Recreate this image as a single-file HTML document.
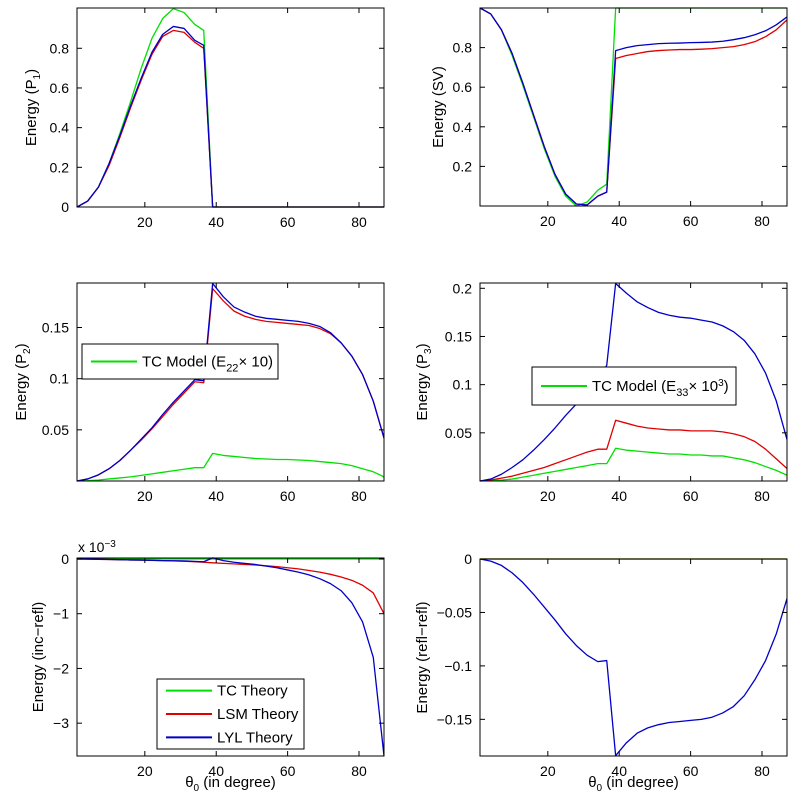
<!DOCTYPE html>
<html><head><meta charset="utf-8"><style>
body{margin:0;background:#fff;}
svg{display:block;font-family:"Liberation Sans",Arial,sans-serif;}
</style></head><body>
<svg id="fig" width="807" height="808"></svg>
<script>
const thetaDeg=[1,4,7,10,13,16,19,22,25,28,31,34,36.5,39,42,45,48,51,54,57,60,63,66,69,72,75,78,81,84,87];
const xTicks=[20,40,60,80];
// P1
const p1Green=[0,0.03,0.1,0.22,0.37,0.53,0.7,0.85,0.95,1.0,0.98,0.92,0.89,0,0,0,0,0,0,0,0,0,0,0,0,0,0,0,0,0];
const p1Red=[0,0.03,0.1,0.21,0.35,0.5,0.64,0.77,0.86,0.89,0.88,0.83,0.80,0,0,0,0,0,0,0,0,0,0,0,0,0,0,0,0,0];
const p1Blue=[0,0.03,0.1,0.22,0.36,0.51,0.65,0.78,0.87,0.91,0.9,0.84,0.815,0,0,0,0,0,0,0,0,0,0,0,0,0,0,0,0,0];
const p1Ticks=[0,0.2,0.4,0.6,0.8];
// SV
const svGreen=[1,0.97,0.89,0.76,0.61,0.45,0.29,0.15,0.05,0.0,0.02,0.08,0.11,1,1,1,1,1,1,1,1,1,1,1,1,1,1,1,1,1];
const svRed=[1,0.97,0.89,0.77,0.62,0.46,0.3,0.16,0.06,0.01,0.005,0.05,0.07,0.745,0.76,0.77,0.78,0.785,0.788,0.79,0.79,0.792,0.795,0.8,0.805,0.815,0.83,0.855,0.89,0.94];
const svBlue=[1,0.97,0.89,0.77,0.62,0.46,0.3,0.16,0.06,0.01,0.005,0.05,0.07,0.785,0.8,0.81,0.815,0.82,0.822,0.823,0.825,0.826,0.828,0.832,0.84,0.85,0.865,0.885,0.915,0.955];
const svTicks=[0.2,0.4,0.6,0.8];
// P2
const p2Green=[0,0.0003,0.001,0.002,0.003,0.004,0.0055,0.007,0.0085,0.01,0.0115,0.013,0.013,0.027,0.025,0.024,0.023,0.022,0.0215,0.021,0.021,0.0205,0.02,0.019,0.018,0.017,0.015,0.012,0.009,0.004];
const p2Red=[0,0.002,0.006,0.012,0.02,0.03,0.04,0.051,0.063,0.075,0.086,0.097,0.096,0.188,0.176,0.166,0.161,0.158,0.156,0.155,0.154,0.153,0.152,0.149,0.144,0.135,0.122,0.104,0.078,0.042];
const p2Blue=[0,0.002,0.006,0.012,0.02,0.03,0.041,0.052,0.065,0.077,0.088,0.099,0.098,0.193,0.18,0.17,0.165,0.161,0.159,0.158,0.157,0.156,0.154,0.151,0.145,0.135,0.122,0.104,0.078,0.042];
const p2Ticks=[0.05,0.1,0.15];
// P3
const p3Green=[0,0.0005,0.001,0.002,0.004,0.006,0.008,0.01,0.012,0.014,0.016,0.018,0.018,0.034,0.032,0.031,0.03,0.029,0.028,0.028,0.027,0.027,0.026,0.026,0.024,0.022,0.019,0.015,0.011,0.006];
const p3Red=[0,0.001,0.003,0.005,0.008,0.011,0.014,0.018,0.022,0.026,0.03,0.033,0.033,0.063,0.06,0.057,0.055,0.054,0.053,0.053,0.052,0.052,0.052,0.051,0.049,0.046,0.041,0.033,0.023,0.013];
const p3Blue=[0,0.002,0.007,0.014,0.022,0.032,0.043,0.055,0.068,0.08,0.092,0.105,0.12,0.205,0.195,0.186,0.18,0.175,0.172,0.17,0.169,0.167,0.165,0.161,0.155,0.146,0.132,0.112,0.083,0.043];
const p3Ticks=[0.05,0.1,0.15,0.2];
// inc-refl (x1e-3)
const irGreen=[0,0,0,0,0,0,0,0,0,0,0,0,0,0,0,0,0,0,0,0,0,0,0,0,0,0,0,0,0,0];
const irRed=[0,-0.003,-0.006,-0.01,-0.013,-0.017,-0.02,-0.025,-0.03,-0.035,-0.04,-0.05,-0.06,-0.07,-0.08,-0.09,-0.1,-0.11,-0.125,-0.14,-0.16,-0.18,-0.21,-0.24,-0.28,-0.33,-0.39,-0.48,-0.62,-1.0];
const irBlue=[0,-0.003,-0.006,-0.01,-0.013,-0.017,-0.02,-0.025,-0.03,-0.033,-0.036,-0.045,-0.05,0.02,-0.03,-0.06,-0.08,-0.1,-0.13,-0.16,-0.2,-0.24,-0.29,-0.36,-0.45,-0.58,-0.8,-1.15,-1.8,-3.6];
const irTicks=[-3,-2,-1,0];
// refl-refl
const rrGreen=[0,0,0,0,0,0,0,0,0,0,0,0,0,0,0,0,0,0,0,0,0,0,0,0,0,0,0,0,0,0];
const rrRed=[0,0,0,0,0,0,0,0,0,0,0,0,0,0,0,0,0,0,0,0,0,0,0,0,0,0,0,0,0,0];
const rrBlue=[0,-0.002,-0.006,-0.013,-0.022,-0.033,-0.045,-0.057,-0.07,-0.081,-0.09,-0.096,-0.095,-0.184,-0.172,-0.163,-0.158,-0.155,-0.153,-0.152,-0.151,-0.15,-0.148,-0.144,-0.138,-0.128,-0.113,-0.095,-0.07,-0.037];
const rrTicks=[-0.15,-0.1,-0.05,0];

const NS='http://www.w3.org/2000/svg';
const svg=document.getElementById('fig');
function mk(tag,attrs,parent){const e=document.createElementNS(NS,tag);for(const k in attrs)e.setAttribute(k,attrs[k]);(parent||svg).appendChild(e);return e;}
const GREEN='#00e000',RED='#e00000',BLUE='#0000c8';

function panel(name,L,R,T,B,ymin,ymax,yTicks,series,ylabel,labelX,showXLabel){
  const g=mk('g',{});
  
  
  const xs=v=>L+(v-1)/(87-1)*(R-L);
  const ys=v=>B-(v-ymin)/(ymax-ymin)*(B-T);
  const clip=mk('clipPath',{id:'c'+name},g);
  mk('rect',{x:L,y:T-1,width:R-L,height:B-T+2},clip);
  const lines=mk('g',{'clip-path':'url(#c'+name+')'},g);
  series.forEach(s=>{
    const p=mk('polyline',{points:thetaDeg.map((x,i)=>xs(x).toFixed(2)+','+ys(s.d[i]).toFixed(2)).join(' '),fill:'none',stroke:s.c,'stroke-width':1.3,'stroke-linejoin':'round'},lines);
    
    
  });
  const fr=mk('rect',{x:L,y:T,width:R-L,height:B-T,fill:'none',stroke:'#000','stroke-width':1},g);
  
  
  xTicks.forEach(t=>{
    const x=xs(t);
    mk('line',{x1:x,y1:B,x2:x,y2:B-5,stroke:'#000'},g);
    mk('line',{x1:x,y1:T,x2:x,y2:T+5,stroke:'#000'},g);
    const tx=mk('text',{x:x,y:B+20,'text-anchor':'middle','font-size':14},g);
    tx.textContent=t;
    
    
  });
  yTicks.forEach(t=>{
    const y=ys(t);
    mk('line',{x1:L,y1:y,x2:L+5,y2:y,stroke:'#000'},g);
    mk('line',{x1:R,y1:y,x2:R-5,y2:y,stroke:'#000'},g);
    const tx=mk('text',{x:L-8,y:y+5,'text-anchor':'end','font-size':14},g);
    tx.textContent=String(t).replace('-','\u2212');
    
    
  });
  const yl=mk('text',{x:labelX,y:(T+B)/2,'text-anchor':'middle','font-size':15,transform:'rotate(-90 '+labelX+' '+((T+B)/2)+')'},g);
  yl.innerHTML=ylabel;
  
  
  if(showXLabel){
    const xl=mk('text',{x:(L+R)/2,y:B+31,'text-anchor':'middle','font-size':15},g);
    xl.innerHTML='θ<tspan dy="4" font-size="10">0</tspan><tspan dy="-4"> (in degree)</tspan>';
    
    
  }
  return g;
}
panel('panel-p1',77,384,8,207,0,1.003,p1Ticks,[{d:p1Green,c:GREEN,n:'p1-tc'},{d:p1Red,c:RED,n:'p1-lsm'},{d:p1Blue,c:BLUE,n:'p1-lyl'}],'Energy (P<tspan dy="4" font-size="10">1</tspan><tspan dy="-4">)</tspan>',36,false);
panel('panel-sv',480,787,8,206,0,1.0,svTicks,[{d:svGreen,c:GREEN,n:'sv-tc'},{d:svRed,c:RED,n:'sv-lsm'},{d:svBlue,c:BLUE,n:'sv-lyl'}],'Energy (SV)',443,false);
panel('panel-p2',77,384,283,481,0,0.1935,p2Ticks,[{d:p2Green,c:GREEN,n:'p2-tc'},{d:p2Red,c:RED,n:'p2-lsm'},{d:p2Blue,c:BLUE,n:'p2-lyl'}],'Energy (P<tspan dy="4" font-size="10">2</tspan><tspan dy="-4">)</tspan>',26,false);
panel('panel-p3',480,787,283,481,0,0.2055,p3Ticks,[{d:p3Green,c:GREEN,n:'p3-tc'},{d:p3Red,c:RED,n:'p3-lsm'},{d:p3Blue,c:BLUE,n:'p3-lyl'}],'Energy (P<tspan dy="4" font-size="10">3</tspan><tspan dy="-4">)</tspan>',427,false);
panel('panel-inc-refl',77,384,558,756,-3.6,0.018,irTicks,[{d:irGreen,c:GREEN,n:'ir-tc'},{d:irRed,c:RED,n:'ir-lsm'},{d:irBlue,c:BLUE,n:'ir-lyl'}],'Energy (inc−refl)',43,true);
panel('panel-refl-refl',480,787,559,756,-0.1843,0,rrTicks,[{d:rrGreen,c:GREEN,n:'rr-tc'},{d:rrRed,c:'#e04000',n:'rr-lsm'},{d:rrBlue,c:BLUE,n:'rr-lyl'}],'Energy (refl−refl)',427,true);

function legend(name,x,y,w,h,entries){
  const g=mk('g',{});
  
  
  mk('rect',{x:x,y:y,width:w,height:h,fill:'#fff',stroke:'#000'},g);
  const step=h/entries.length;
  entries.forEach((e,i)=>{
    const cy=y+step*(i+0.5);
    mk('line',{x1:x+9,y1:cy,x2:x+55,y2:cy,stroke:e.c,'stroke-width':2},g);
    const t=mk('text',{x:x+60,y:cy+5,'font-size':15},g);
    t.innerHTML=e.t;
    
    
  });
}
legend('legend-p2',82,344,196,35,[{c:GREEN,t:'TC Model (E<tspan dy="5" font-size="11">22</tspan><tspan dy="-5">× 10)</tspan>'}]);
legend('legend-p3',532,367,204,38,[{c:GREEN,t:'TC Model (E<tspan dy="5" font-size="11">33</tspan><tspan dy="-5">× 10</tspan><tspan dy="-5" font-size="10">3</tspan><tspan dy="5">)</tspan>'}]);
legend('legend-theory',157,679,147,70,[{c:GREEN,t:'TC Theory'},{c:RED,t:'LSM Theory'},{c:BLUE,t:'LYL Theory'}]);
const sc=mk('text',{x:78,y:552,'font-size':14});
sc.innerHTML='x 10<tspan dy="-5" font-size="10">−3</tspan>';


</script>
</body></html>
